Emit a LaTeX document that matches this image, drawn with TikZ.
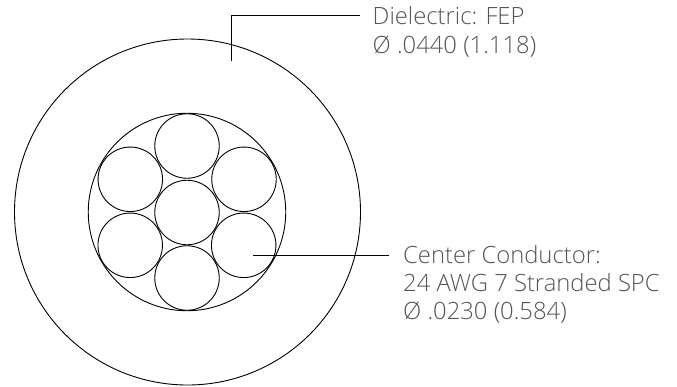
\documentclass[tikz,border=0pt]{standalone}
\usepackage{fontspec}
\setmainfont{Open Sans Light}[BoldFont={Open Sans}]
\definecolor{lab}{HTML}{555555}
\begin{document}
\begin{tikzpicture}[x=1pt,y=-1pt,
  wire/.style={draw=black,line width=0.9pt,circle,minimum size=#1,inner sep=0pt,outer sep=0pt},
  lead/.style={draw=black,line width=1pt},
  lbl/.style={text=lab,font=\fontsize{23.8}{27.6}\selectfont,anchor=base west,align=left,inner sep=0pt}]
\useasboundingbox (0,0) rectangle (677,386);
\node[wire=346pt] (outer) at (187.5,212) {};
\node[wire=197.5pt] (inner) at (187,212) {};
\node[wire=64.5pt] (c0) at (187,212.5) {};
\node[wire=64.5pt] (c1) at (187,146) {};
\node[wire=64.5pt] (c2) at (244,179.3) {};
\node[wire=64.5pt] (c3) at (243.7,245.3) {};
\node[wire=64.5pt] (c4) at (187,278) {};
\node[wire=64.5pt] (c5) at (130.2,245.3) {};
\node[wire=64.5pt] (c6) at (130.3,179.3) {};
\coordinate (d1) at (231.5,61);
\coordinate (d2) at (231.5,15);
\coordinate (d3) at (360,15);
\draw[lead] (d1) -- (d2) -- (d3);
\coordinate (e1) at (253,255.7);
\coordinate (e2) at (389,255.7);
\draw[lead] (e1) -- (e2);
\node[lbl] (t1a) at (372.5,24.5) {Dielectric: FEP};
\node[lbl] (t1b) at (372.5,53) {Ø .0440 (1.118)};
\node[lbl] (t2a) at (403,263) {Center Conductor:};
\node[lbl] (t2b) at (403,291.5) {24 AWG 7 Stranded SPC};
\node[lbl] (t2c) at (403,319.5) {Ø .0230 (0.584)};
\end{tikzpicture}
\end{document}
